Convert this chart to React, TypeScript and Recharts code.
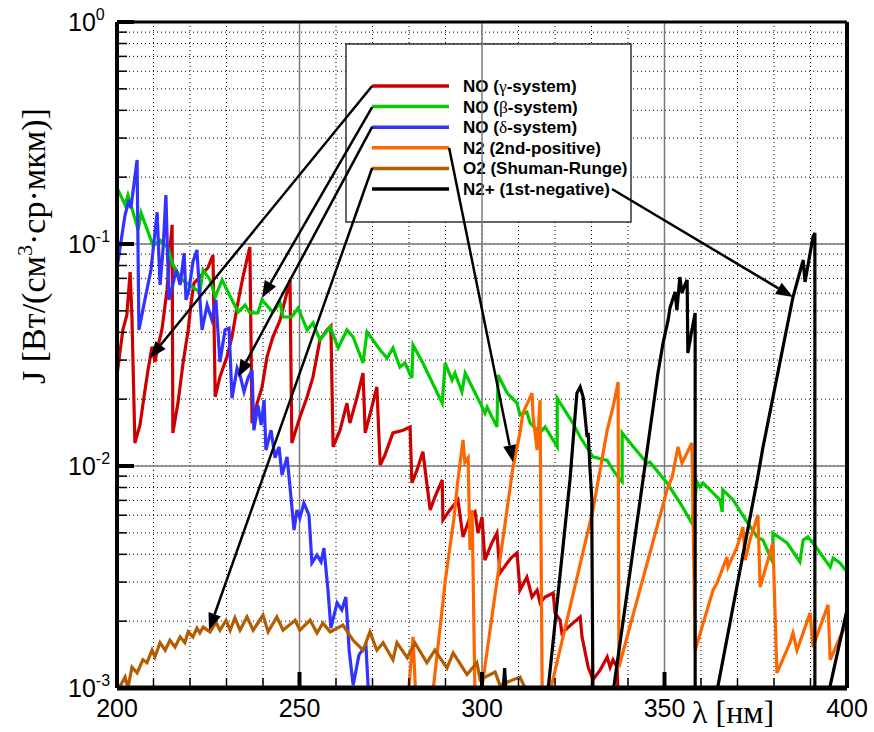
import React from "react";
import {
  LineChart,
  Line,
  XAxis,
  YAxis,
  CartesianGrid,
  ReferenceLine,
} from "recharts";

type Pt = [number, number];

// wavelength (nm), J value
const noGamma: Pt[] = [
  [200, 0.0257], [201.6, 0.041], [202.7, 0.0479], [203.6, 0.0748], [204.1, 0.0464],
  [204.9, 0.0127], [206.3, 0.0153], [207.4, 0.0205], [208.5, 0.0271], [209.6, 0.0344],
  [210.4, 0.0294], [211.2, 0.0344], [212.3, 0.041], [213.7, 0.0621], [214.5, 0.094],
  [215.1, 0.122], [215.3, 0.0141], [216.7, 0.0192], [218.1, 0.0291], [219.5, 0.041],
  [220.3, 0.0542], [221.1, 0.0667], [222.7, 0.071], [223.8, 0.0748], [224.9, 0.078],
  [226.3, 0.0892], [226.9, 0.0205], [228.2, 0.0252], [230.1, 0.031], [231.5, 0.0381],
  [232.9, 0.052], [234.5, 0.071], [236.4, 0.0969], [237.0, 0.0156], [238.4, 0.0192],
  [239.7, 0.0225], [241.1, 0.031], [242.7, 0.0381], [244.7, 0.0455], [247.4, 0.0689],
  [247.9, 0.0127], [250.1, 0.0166], [252.1, 0.0205], [253.7, 0.0252], [255.6, 0.037],
  [257.5, 0.041], [258.6, 0.0427], [259.2, 0.0122], [261.1, 0.0145], [263.0, 0.0192],
  [263.8, 0.0156], [265.8, 0.0205], [267.4, 0.0262], [268.0, 0.0141], [270.1, 0.0192],
  [271.2, 0.0227], [272.1, 0.0101], [273.4, 0.0112], [275.6, 0.0141], [278.4, 0.0145],
  [280.3, 0.015], [280.8, 0.00838], [282.2, 0.0096], [283.8, 0.0116], [285.8, 0.00634],
  [287.1, 0.00725], [289.1, 0.00865], [289.3, 0.00571], [291.2, 0.00634], [293.4, 0.00703],
  [294.8, 0.00479], [296.7, 0.00589], [298.1, 0.00621], [298.9, 0.00499], [300.0, 0.00589],
  [300.8, 0.00377], [302.7, 0.0045], [304.1, 0.00499], [304.9, 0.00329], [306.9, 0.00366],
  [308.2, 0.00389], [309.6, 0.00406], [310.4, 0.00276], [312.3, 0.00316], [313.7, 0.00257],
  [315.1, 0.00276], [315.9, 0.00242], [317.3, 0.00257], [319.5, 0.00268], [320.0, 0.00218],
  [321.4, 0.00202], [321.9, 0.00177], [324.9, 0.00196], [326.9, 0.00209], [327.4, 0.0017],
  [329.1, 0.00124], [330.4, 0.00109], [332.3, 0.0012], [334.3, 0.00138], [335.1, 0.00124],
  [335.9, 0.00134], [337.0, 0.00124], [337.3, 0.00093],
];

const noBeta: Pt[] = [
  [200, 0.179], [202.2, 0.15], [203.0, 0.166], [205.8, 0.116], [206.6, 0.138],
  [209.9, 0.098], [211.8, 0.104], [214.0, 0.096], [215.1, 0.082], [217.8, 0.0689],
  [222.7, 0.0608], [223.6, 0.0764], [225.5, 0.0689], [226.9, 0.0577], [228.8, 0.0689],
  [230.4, 0.0608], [231.8, 0.0548], [233.2, 0.0494], [235.1, 0.0531], [236.4, 0.0489],
  [238.6, 0.0489], [239.7, 0.056], [242.7, 0.0494], [244.7, 0.0542], [245.5, 0.0469],
  [247.9, 0.0469], [249.6, 0.0515], [252.1, 0.041], [253.7, 0.0441], [255.6, 0.037],
  [258.4, 0.0423], [260.6, 0.034], [263.0, 0.041], [264.7, 0.0381], [267.4, 0.0291],
  [268.5, 0.0402], [272.1, 0.0333], [274.0, 0.0306], [275.6, 0.034], [277.5, 0.0279],
  [278.9, 0.0291], [280.8, 0.0249], [281.1, 0.0351], [283.8, 0.0291], [289.1, 0.0192],
  [289.9, 0.0291], [291.8, 0.0244], [292.6, 0.0262], [294.5, 0.0216], [295.4, 0.0262],
  [299.5, 0.0192], [300.8, 0.0173], [301.4, 0.0184], [304.1, 0.015], [304.4, 0.0257],
  [306.9, 0.0213], [309.6, 0.0192], [310.4, 0.017], [312.3, 0.0175], [313.2, 0.0156],
  [315.9, 0.0141], [317.3, 0.015], [320.6, 0.0122], [320.6, 0.0202], [324.9, 0.0156],
  [326.9, 0.0135], [330.4, 0.011], [334.3, 0.0106], [335.9, 0.0096], [337.8, 0.00865],
  [338.4, 0.00848], [338.4, 0.0141], [340.6, 0.0127], [345.2, 0.0103], [346.0, 0.0104],
  [350.7, 0.00838], [354.3, 0.00681], [357.5, 0.00553], [358.9, 0.00848], [359.7, 0.00804],
  [360.6, 0.00838], [365.2, 0.00703], [365.8, 0.00621], [366.0, 0.0078], [368.8, 0.00703],
  [372.6, 0.0056], [375.4, 0.00479], [377.0, 0.00464], [379.7, 0.00366], [379.7, 0.00499],
  [383.6, 0.0045], [387.1, 0.0037], [388.0, 0.00464], [389.3, 0.00479], [390.7, 0.0045],
  [395.4, 0.00351], [396.2, 0.00385], [398.1, 0.00366], [400, 0.00333],
];

const noDelta: Pt[] = [
  [200, 0.078], [202.2, 0.135], [203.3, 0.158], [203.8, 0.145], [205.5, 0.239],
  [206.0, 0.041], [207.9, 0.0589], [209.3, 0.0764], [211.0, 0.139], [211.8, 0.0654],
  [212.6, 0.094], [213.4, 0.166], [214.2, 0.056], [215.1, 0.0634], [216.2, 0.0764],
  [217.3, 0.0654], [218.4, 0.091], [218.9, 0.056], [219.7, 0.0621], [220.8, 0.083],
  [221.9, 0.094], [222.7, 0.0571], [223.3, 0.041], [224.7, 0.0531], [226.0, 0.0455],
  [227.1, 0.056], [228.2, 0.0294], [229.6, 0.041], [230.7, 0.0418], [231.5, 0.0202],
  [232.9, 0.0276], [233.7, 0.0257], [234.8, 0.0216], [235.9, 0.0249], [237.0, 0.0271],
  [237.5, 0.0145], [238.6, 0.0188], [239.5, 0.0153], [240.3, 0.0198], [240.8, 0.0118],
  [242.2, 0.0145], [243.3, 0.0109], [244.4, 0.0122], [245.2, 0.0091], [246.6, 0.011],
  [247.4, 0.00804], [248.5, 0.00515], [249.3, 0.00634], [250.1, 0.00583], [251.2, 0.00681],
  [252.6, 0.00601], [253.4, 0.00366], [254.8, 0.00397], [255.9, 0.0037], [256.7, 0.00427],
  [257.8, 0.00276], [258.6, 0.00186], [260.3, 0.00242], [261.6, 0.00225], [262.7, 0.00257],
  [263.6, 0.00148], [264.7, 0.00103], [266.3, 0.00141], [268.2, 0.00156], [269.0, 0.00088],
];

const n2Second: Pt[] = [
  [279.7, 0.00088], [281.1, 0.0017], [281.9, 0.00088],
  [286.3, 0.00088], [290.0, 0.0031], [292.3, 0.0058], [293.4, 0.00865], [294.8, 0.0131],
  [295.3, 0.0104], [296.2, 0.0109], [296.7, 0.00419], [297.3, 0.00634], [298.1, 0.00088],
  [299.5, 0.00088], [308.5, 0.00989], [310.4, 0.0141], [311.2, 0.0173], [313.7, 0.0213],
  [314.0, 0.0166], [315.1, 0.0118], [315.9, 0.0198], [316.5, 0.00088],
  [318.1, 0.00088], [330.4, 0.00634], [334.3, 0.0145], [335.9, 0.0184], [337.3, 0.0239],
  [337.5, 0.00124], [350.7, 0.0078], [352.1, 0.00892], [353.7, 0.0122], [354.8, 0.0103],
  [357.5, 0.0127], [358.4, 0.00148], [363.3, 0.00276], [364.4, 0.00297], [367.1, 0.00389],
  [367.4, 0.00351], [369.9, 0.00432], [371.5, 0.00531], [372.1, 0.00377], [373.4, 0.00464],
  [375.6, 0.00601], [376.2, 0.00285], [379.7, 0.0045], [380.8, 0.00117], [384.4, 0.0016],
  [385.2, 0.00177], [386.3, 0.00148], [389.9, 0.00218], [390.7, 0.00153], [392.6, 0.00188],
  [394.8, 0.00237], [395.4, 0.00134], [398.1, 0.0017], [400, 0.00196],
];

const o2Sr: Pt[] = [
  [200, 0.00096], [202.2, 0.00112], [203.0, 0.001], [204.1, 0.00124], [205.5, 0.00117],
  [207.1, 0.00134], [208.2, 0.0013], [209.6, 0.00148], [210.4, 0.00138], [211.8, 0.0016],
  [213.2, 0.00148], [214.5, 0.00164], [215.9, 0.00153], [217.3, 0.0017], [218.6, 0.0016],
  [219.5, 0.00179], [220.8, 0.0017], [221.9, 0.00186], [222.7, 0.00177], [223.6, 0.00188],
  [225.5, 0.00179], [227.1, 0.00198], [228.2, 0.00182], [229.9, 0.00202], [231.0, 0.00182],
  [232.3, 0.00207], [233.7, 0.00182], [235.6, 0.00209], [237.3, 0.00182], [240.0, 0.00213],
  [241.4, 0.00179], [243.8, 0.00209], [245.5, 0.00182], [248.8, 0.00202], [250.1, 0.00182],
  [252.9, 0.00202], [254.8, 0.00177], [256.4, 0.00196], [258.4, 0.00179], [261.9, 0.00192],
  [264.7, 0.00164], [267.4, 0.00148], [269.3, 0.00179], [271.2, 0.00148], [272.9, 0.0016],
  [275.6, 0.00134], [276.7, 0.0016], [279.5, 0.00137], [281.6, 0.0016], [284.9, 0.0013],
  [287.1, 0.00148], [290.4, 0.00123], [292.1, 0.00144], [295.9, 0.00115], [298.6, 0.0013],
  [299.5, 0.00109], [303.6, 0.00118], [304.9, 0.00103], [310.4, 0.00112], [312.3, 0.00096],
];

const n2Plus: Pt[] = [
  [305.6, 0.00088], [306.2, 0.00123], [306.7, 0.00088],
  [317.8, 0.00088], [324.1, 0.00865], [326.0, 0.0213], [326.9, 0.0227], [327.7, 0.0205],
  [328.8, 0.0135], [329.1, 0.0141], [329.6, 0.0096], [330.1, 0.00703], [330.1, 0.00515],
  [330.4, 0.00088],
  [335.6, 0.00088], [344.1, 0.00865], [348.2, 0.0262], [349.6, 0.0358], [351.0, 0.0455],
  [351.5, 0.0515], [352.9, 0.0608], [353.4, 0.0504], [354.2, 0.071], [354.8, 0.0602],
  [355.6, 0.0654], [356.2, 0.0689], [356.4, 0.0323], [357.5, 0.041], [358.4, 0.0489],
  [358.4, 0.00088],
  [363.9, 0.00088], [375.4, 0.00865], [377.0, 0.0122], [385.2, 0.0577], [388.0, 0.0847],
  [388.5, 0.0675], [390.7, 0.108], [391.2, 0.112], [391.2, 0.00088],
  [394.5, 0.00088], [400, 0.00225],
];

const series = [
  { key: "g", name: "NO (", greek: "γ", tail: "-system)", color: "#CC0000", data: noGamma },
  { key: "b", name: "NO (", greek: "β", tail: "-system)", color: "#00CC00", data: noBeta },
  { key: "d", name: "NO (", greek: "δ", tail: "-system)", color: "#3333FF", data: noDelta },
  { key: "n2", name: "N2 (2nd-positive)", greek: "", tail: "", color: "#FF6600", data: n2Second },
  { key: "o2", name: "O2 (Shuman-Runge)", greek: "", tail: "", color: "#B35C00", data: o2Sr },
  { key: "n2p", name: "N2+ (1st-negative)", greek: "", tail: "", color: "#000000", data: n2Plus },
];

// arrows from legend entries to the curves: [x, J] -> [x, J]
const arrows: [Pt, Pt][] = [
  [[269.9, 0.515], [209.0, 0.0306]],
  [[269.9, 0.414], [239.7, 0.0571]],
  [[269.9, 0.337], [233.2, 0.0252]],
  [[291.0, 0.271], [308.5, 0.0104]],
  [[269.9, 0.22], [225.2, 0.00182]],
  [[335.6, 0.177], [385.2, 0.0577]],
];

const xLabels = [200, 250, 300, 350, 400];
const xTicks = Array.from({ length: 21 }, (_, i) => 200 + i * 10);
const decades = [-3, -2, -1, 0];
const yTicks = decades.flatMap((d) =>
  d === 0 ? [1] : [1, 2, 3, 4, 5, 6, 7, 8, 9].map((m) => m * Math.pow(10, d))
);
const majorX = [250, 300, 350];
const majorY = [0.01, 0.1];

const SANS = "'Liberation Sans', Arial, sans-serif";
const SERIF = "'Liberation Serif', 'Times New Roman', serif";

const isDecade = (v: number) => {
  const l = Math.log10(v);
  return Math.abs(l - Math.round(l)) < 1e-6;
};

const BottomTick = ({ x, y, payload }: any) => {
  const major = xLabels.includes(payload.value);
  return (
    <g>
      <line x1={x} y1={y} x2={x} y2={y - (major ? 16 : 10)} stroke="#000" strokeWidth={major ? 4 : 1.5} />
      {major && (
        <text x={x} y={y + 29} textAnchor="middle" fontFamily={SANS} fontSize={25} fill="#000">
          {payload.value}
        </text>
      )}
    </g>
  );
};

const TopTick = ({ x, y, payload }: any) => {
  const major = xLabels.includes(payload.value);
  return <line x1={x} y1={y} x2={x} y2={y + (major ? 10 : 5)} stroke="#000" strokeWidth={major ? 3 : 1.5} />;
};

const LeftTick = ({ x, y, payload }: any) => {
  const v = payload.value;
  const major = isDecade(v);
  return (
    <g>
      <line x1={x} y1={y} x2={x + (major ? 17 : 10)} y2={y} stroke="#000" strokeWidth={major ? 4 : 1.5} />
      {major && (
        <text x={x - 49} y={y + 9} fontFamily={SANS} fontSize={25} fill="#000">
          10
          <tspan dy={-11} fontSize={16}>
            {Math.round(Math.log10(v))}
          </tspan>
        </text>
      )}
    </g>
  );
};

const RightTick = ({ x, y, payload }: any) => {
  const major = isDecade(payload.value);
  return <line x1={x} y1={y} x2={x - (major ? 10 : 5)} y2={y} stroke="#000" strokeWidth={major ? 3 : 1.5} />;
};

const Arrow = (props: any) => {
  const { x1, y1, x2, y2 } = props;
  const dx = x2 - x1;
  const dy = y2 - y1;
  const len = Math.hypot(dx, dy);
  const ux = dx / len;
  const uy = dy / len;
  const hl = 17;
  const hw = 6.5;
  const bx = x2 - ux * hl;
  const by = y2 - uy * hl;
  return (
    <g>
      <line x1={x1} y1={y1} x2={bx} y2={by} stroke="#000" strokeWidth={2.5} />
      <polygon
        points={`${x2},${y2} ${bx - uy * hw},${by + ux * hw} ${bx + uy * hw},${by - ux * hw}`}
        fill="#000"
      />
    </g>
  );
};

const LegendBox = () => (
  <g>
    <rect x={346} y={44} width={285} height={178} fill="#fff" stroke="#000" strokeWidth={1.2} />
    {series.map((s, i) => {
      const ly = 86 + i * 20.6;
      return (
        <g key={s.key}>
          <line x1={372} y1={ly} x2={449} y2={ly} stroke={s.color} strokeWidth={3.5} />
          <text x={463} y={ly + 6} fontFamily={SANS} fontWeight="bold" fontSize={17} fill="#000">
            {s.name}
            {s.greek && (
              <tspan fontFamily={SERIF} fontWeight="normal" fontSize={17.5}>
                {s.greek}
              </tspan>
            )}
            {s.tail}
          </text>
        </g>
      );
    })}
  </g>
);

const toPoints = (pts: Pt[]) => pts.map(([x, y]) => ({ x, y }));

export default function App() {
  return (
    <div style={{ position: "absolute", left: 0, top: 0, background: "#fff" }}>
      <LineChart width={874} height={732} margin={{ top: 0, right: 0, bottom: 0, left: 0 }}>
        <CartesianGrid stroke="#000" strokeWidth={1} strokeDasharray="1 3" />
        <XAxis
          type="number"
          dataKey="x"
          domain={[200, 400]}
          ticks={xTicks}
          interval={0}
          allowDataOverflow
          height={44}
          tickSize={0}
          tickMargin={0}
          tick={<BottomTick />}
          axisLine={{ stroke: "#000", strokeWidth: 5 }}
          tickLine={false}
        />
        <XAxis
          xAxisId="top"
          orientation="top"
          type="number"
          dataKey="x"
          domain={[200, 400]}
          ticks={xTicks}
          interval={0}
          height={22}
          tickSize={0}
          tickMargin={0}
          tick={<TopTick />}
          axisLine={{ stroke: "#000", strokeWidth: 3 }}
          tickLine={false}
        />
        <YAxis
          type="number"
          scale="log"
          domain={[0.001, 1]}
          ticks={yTicks}
          interval={0}
          allowDataOverflow
          width={117}
          tickSize={0}
          tickMargin={0}
          tick={<LeftTick />}
          axisLine={{ stroke: "#000", strokeWidth: 4 }}
          tickLine={false}
        />
        <YAxis
          yAxisId="right"
          orientation="right"
          type="number"
          scale="log"
          domain={[0.001, 1]}
          ticks={yTicks}
          interval={0}
          width={27}
          tickSize={0}
          tickMargin={0}
          tick={<RightTick />}
          axisLine={{ stroke: "#000", strokeWidth: 4 }}
          tickLine={false}
        />
        {majorX.map((v) => (
          <ReferenceLine key={`mx${v}`} x={v} stroke="#7a7a7a" strokeWidth={1.5} />
        ))}
        {majorY.map((v) => (
          <ReferenceLine key={`my${v}`} y={v} stroke="#7a7a7a" strokeWidth={1.5} />
        ))}
        {series.map((s) => (
          <Line
            key={s.key}
            data={toPoints(s.data)}
            dataKey="y"
            type="linear"
            stroke={s.color}
            strokeWidth={3.2}
            dot={false}
            activeDot={false}
            isAnimationActive={false}
          />
        ))}
        <LegendBox />
        {arrows.map(([a, b], i) => (
          <ReferenceLine
            key={`ar${i}`}
            segment={[{ x: a[0], y: a[1] }, { x: b[0], y: b[1] }]}
            shape={Arrow}
          />
        ))}
        <text x={692} y={723} fontFamily={SERIF} fontSize={32} fill="#000">
          λ [нм]
        </text>
        <text
          x={45}
          y={246}
          transform="rotate(-90 45 246)"
          textAnchor="middle"
          fontFamily={SERIF}
          fontSize={34}
          fill="#000"
        >
          J [Вт/(см
          <tspan dy={-13} fontSize={22}>3</tspan>
          <tspan dy={13}>·ср·мкм)]</tspan>
        </text>
      </LineChart>
    </div>
  );
}
